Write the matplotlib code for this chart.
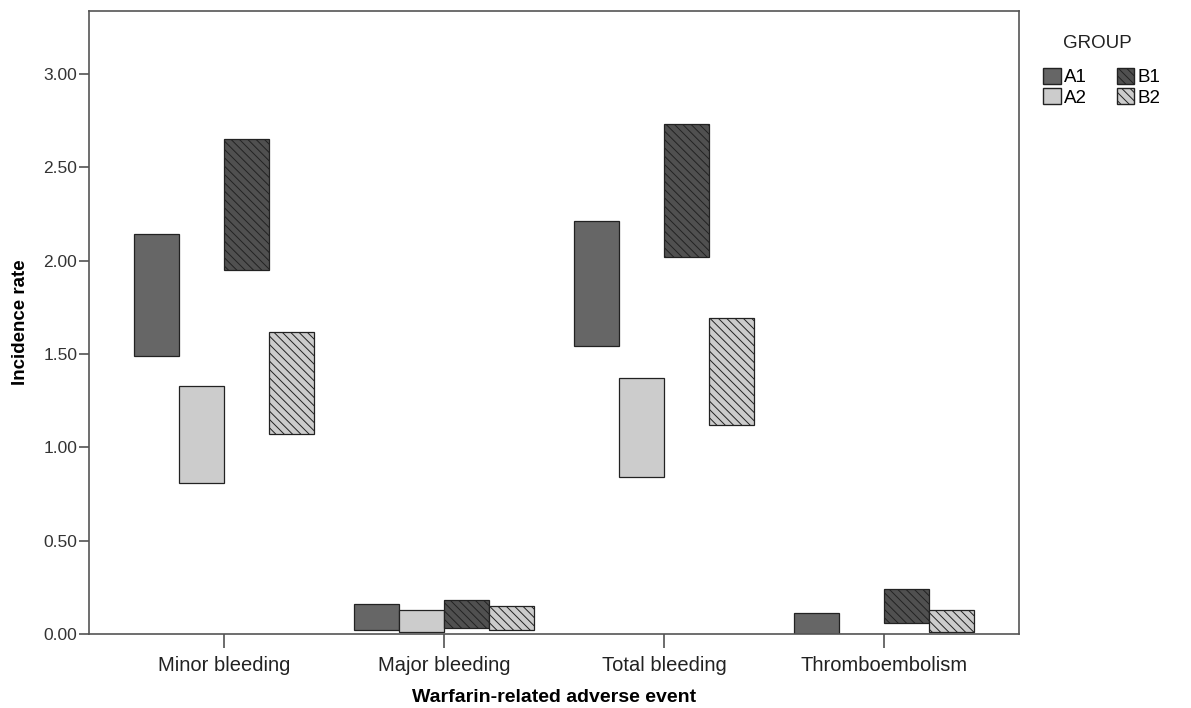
import matplotlib
matplotlib.use("Agg")
import matplotlib.pyplot as plt
from matplotlib.patches import Patch
import numpy as np

categories = ["Minor bleeding", "Major bleeding", "Total bleeding", "Thromboembolism"]
groups = ["A1", "A2", "B1", "B2"]

# low / high end of each range bar, one list per group (order follows categories)
a1_low = [1.49, 0.02, 1.54, 0.00]
a1_high = [2.14, 0.16, 2.21, 0.11]
a2_low = [0.81, 0.01, 0.84, 0.00]
a2_high = [1.33, 0.13, 1.37, 0.00]
b1_low = [1.95, 0.03, 2.02, 0.06]
b1_high = [2.65, 0.18, 2.73, 0.24]
b2_low = [1.07, 0.02, 1.12, 0.01]
b2_high = [1.62, 0.15, 1.69, 0.13]

yticks = [0.0, 0.5, 1.0, 1.5, 2.0, 2.5, 3.0]

lows = [a1_low, a2_low, b1_low, b2_low]
highs = [a1_high, a2_high, b1_high, b2_high]
faces = ["#666666", "#cccccc", "#505050", "#cccccc"]
hatches = [None, None, "\\\\\\\\", "\\\\\\\\"]

plt.rcParams["font.family"] = ["Liberation Sans", "DejaVu Sans"]
plt.rcParams["hatch.linewidth"] = 0.7

fig = plt.figure(figsize=(11.91, 7.08), dpi=100)
ax = fig.add_axes([89 / 1191, 74 / 708, 930 / 1191, 623 / 708])

x = np.arange(len(categories))
w = 0.205
for i, g in enumerate(groups):
    lo = np.array(lows[i])
    hi = np.array(highs[i])
    ax.bar(x + (i - 1.5) * w, hi - lo, width=w, bottom=lo, color=faces[i],
           edgecolor="#222222", linewidth=0.9, hatch=hatches[i], label=g)

ax.set_xlim(-0.614, 3.614)
ax.set_ylim(0, 3.337)
ax.set_yticks(yticks)
ax.set_yticklabels(["%.2f" % v for v in yticks])
ax.set_xticks(x)
ax.set_xticklabels(categories)

for s in ["left", "bottom", "right", "top"]:
    ax.spines[s].set_color("#555555")
    ax.spines[s].set_linewidth(1.2)

ax.tick_params(axis="y", length=7.5, width=1.1, color="#444444", labelsize=12.5, labelcolor="#333333", pad=1)
ax.tick_params(axis="x", length=10, width=1.1, color="#444444", labelsize=14.5, labelcolor="#222222", pad=6)

ax.set_ylabel("Incidence rate", fontsize=13.5, fontweight="bold", labelpad=10)
ax.set_xlabel("Warfarin-related adverse event", fontsize=14, fontweight="bold", labelpad=10)

handles = [Patch(facecolor=faces[i], edgecolor="#222222", hatch=hatches[i], label=g)
           for i, g in enumerate(groups)]
fig.text(1097 / 1191, 1 - 44 / 708, "GROUP", fontsize=13.5, color="#222222",
         ha="center", va="center")
fig.legend(handles=handles, ncol=2, loc="upper left",
           bbox_to_anchor=(1026 / 1191, 1 - 51 / 708), frameon=False,
           fontsize=13.5, handlelength=0.95, handleheight=0.95,
           handletextpad=0.15, columnspacing=1.6, labelspacing=0.1)

fig.savefig("out.png", dpi=100)
